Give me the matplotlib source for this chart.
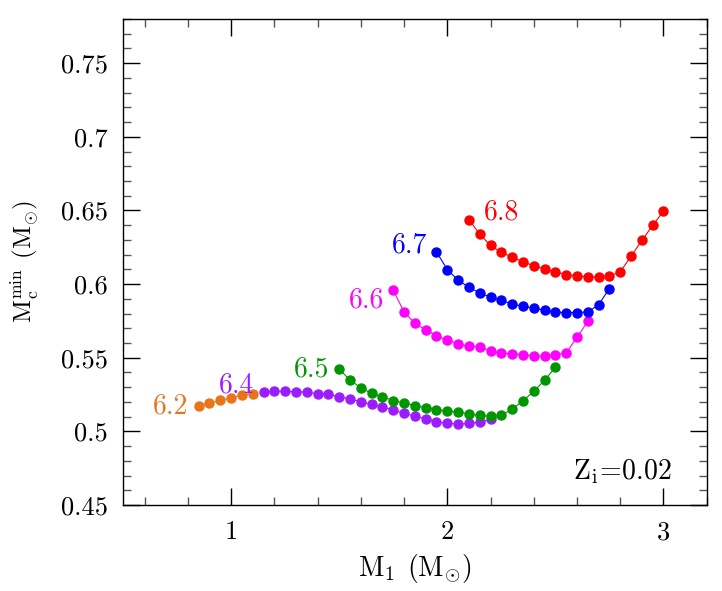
import matplotlib
matplotlib.use('Agg')
import matplotlib.pyplot as plt
from matplotlib.ticker import MultipleLocator, FuncFormatter

plt.rcParams['font.family'] = 'serif'
plt.rcParams['font.serif'] = ['cmr10', 'DejaVu Serif']
plt.rcParams['mathtext.fontset'] = 'cm'
plt.rcParams['axes.formatter.use_mathtext'] = True

# data
x_62 = [0.85, 0.90, 0.95, 1.00, 1.05, 1.10]
y_62 = [0.5175, 0.5190, 0.5210, 0.5228, 0.5244, 0.5257]

x_64 = [1.15, 1.20, 1.25, 1.30, 1.35, 1.40, 1.45, 1.50, 1.55, 1.60, 1.65,
        1.70, 1.75, 1.80, 1.85, 1.90, 1.95, 2.00, 2.05, 2.10, 2.15, 2.20]
y_64 = [0.5267, 0.5271, 0.5272, 0.5270, 0.5266, 0.5256, 0.5251, 0.5236,
        0.5221, 0.5201, 0.5183, 0.5165, 0.5145, 0.5122, 0.5104, 0.5085,
        0.5066, 0.5055, 0.5050, 0.5054, 0.5063, 0.5081]

x_65 = [1.50, 1.55, 1.60, 1.65, 1.70, 1.75, 1.80, 1.85, 1.90, 1.95, 2.00,
        2.05, 2.10, 2.15, 2.20, 2.25, 2.30, 2.35, 2.40, 2.45, 2.50]
y_65 = [0.5423, 0.5348, 0.5296, 0.5258, 0.5235, 0.5208, 0.5194, 0.5174,
        0.5162, 0.5147, 0.5139, 0.5131, 0.5118, 0.5108, 0.5103, 0.5109,
        0.5151, 0.5208, 0.5271, 0.5348, 0.5434]

x_66 = [1.75, 1.80, 1.85, 1.90, 1.95, 2.00, 2.05, 2.10, 2.15, 2.20, 2.25,
        2.30, 2.35, 2.40, 2.45, 2.50, 2.55, 2.60, 2.65]
y_66 = [0.5959, 0.5810, 0.5733, 0.5689, 0.5649, 0.5619, 0.5594, 0.5579,
        0.5575, 0.5545, 0.5531, 0.5527, 0.5520, 0.5513, 0.5511, 0.5520,
        0.5533, 0.5638, 0.5746]

x_67 = [1.95, 2.00, 2.05, 2.10, 2.15, 2.20, 2.25, 2.30, 2.35, 2.40, 2.45,
        2.50, 2.55, 2.60, 2.65, 2.70, 2.75]
y_67 = [0.6218, 0.6099, 0.6026, 0.5979, 0.5940, 0.5911, 0.5889, 0.5864,
        0.5850, 0.5836, 0.5823, 0.5809, 0.5807, 0.5807, 0.5811, 0.5860,
        0.5970]

x_68 = [2.10, 2.15, 2.20, 2.25, 2.30, 2.35, 2.40, 2.45, 2.50, 2.55, 2.60,
        2.65, 2.70, 2.75, 2.80, 2.85, 2.90, 2.95, 3.00]
y_68 = [0.6438, 0.6339, 0.6262, 0.6216, 0.6183, 0.6151, 0.6124, 0.6103,
        0.6083, 0.6065, 0.6056, 0.6049, 0.6049, 0.6054, 0.6083, 0.6189,
        0.6296, 0.6398, 0.6495]

fig = plt.figure(figsize=(7.22, 5.91), dpi=100)
ax = fig.add_axes([0.1704, 0.1455, 0.8084, 0.8224])

series = [
    (x_64, y_64, '#9b1cff', '6.4', 1.023, 0.5314),
    (x_62, y_62, '#e8751a', '6.2', 0.722, 0.5167),
    (x_65, y_65, '#009600', '6.5', 1.370, 0.5423),
    (x_66, y_66, '#ff00ff', '6.6', 1.625, 0.5891),
    (x_67, y_67, '#0000ff', '6.7', 1.825, 0.6264),
    (x_68, y_68, '#ff0000', '6.8', 2.25, 0.6490),
]

for xs, ys, c, lab, tx, ty in series:
    ax.plot(xs, ys, '-', color=c, lw=0.8, marker='o', ms=6.5, mec=c, mfc=c)
    ax.text(tx, ty, lab, color=c, fontsize=20, ha='center', va='center')

ax.text(2.811, 0.4726, r'$\mathrm{Z_i\!=\!0.02}$', fontsize=20,
        ha='center', va='center')

ax.set_xlim(0.5, 3.2)
ax.set_ylim(0.45, 0.78)
ax.xaxis.set_major_locator(MultipleLocator(1))
ax.xaxis.set_minor_locator(MultipleLocator(0.2))
ax.yaxis.set_major_locator(MultipleLocator(0.05))
ax.yaxis.set_minor_locator(MultipleLocator(0.01))
fmt = FuncFormatter(lambda v, p: '%g' % round(v, 3))
ax.xaxis.set_major_formatter(fmt)
ax.yaxis.set_major_formatter(fmt)
ax.tick_params(which='both', direction='in', top=True, right=True,
               labelsize=19)
ax.tick_params(which='major', length=12, width=1.0)
ax.tick_params(which='minor', length=6, width=1.0, color='#555555')
ax.tick_params(axis='x', pad=11)
ax.tick_params(axis='y', pad=11)
for s in ax.spines.values():
    s.set_linewidth(1.0)

ax.set_xlabel(r'$\mathrm{M_1\;\,(M_{\odot})}$', fontsize=20)
ax.set_ylabel(r'$\mathrm{M_c^{min}\;\,(M_{\odot})}$', fontsize=18)
ax.xaxis.set_label_coords(0.5, -0.097)
ax.yaxis.set_label_coords(-0.142, 0.5)

fig.savefig('out.png', dpi=100)
